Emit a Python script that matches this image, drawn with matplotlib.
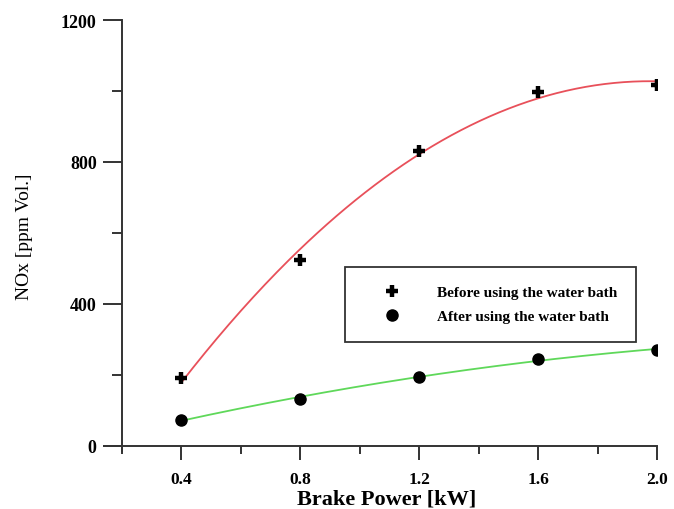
import numpy as np
import matplotlib.pyplot as plt
from matplotlib.ticker import MultipleLocator

plt.rcParams['font.family'] = ['Liberation Serif', 'DejaVu Serif']

power = [0.4, 0.8, 1.2, 1.6, 2.0]
nox_before = [191, 524, 831, 997, 1017]
nox_after = [73, 132, 194, 245, 270]

# smooth fitted curves (2nd order) like the original plot
xs = np.linspace(0.4, 2.0, 200)
fit_before = np.polyval(np.polyfit(power, nox_before, 2), xs)
fit_after = np.polyval(np.polyfit(power, nox_after, 2), xs)

fig = plt.figure(figsize=(6.74, 5.10), dpi=100)
ax = fig.add_axes([0.154, 0.1137, 0.821, 0.845])

ax.plot(xs, fit_before, color='#e8505a', lw=1.3)
ax.plot(xs, fit_after, color='#5fd85a', lw=1.3)
ax.plot(power, nox_before, '+', color='black', ms=9, mew=3.2,
        label='Before using the water bath')
ax.plot(power, nox_after, 'o', color='black', ms=8,
        label='After using the water bath')

ax.set_xlim(0.14, 2.0)
ax.set_ylim(-15, 1200)
ax.spines['left'].set_position(('data', 0.2))
ax.spines['bottom'].set_position(('data', 0))
ax.spines['top'].set_visible(False)
ax.spines['right'].set_visible(False)
for s in ['left', 'bottom']:
    ax.spines[s].set_linewidth(1.4)
    ax.spines[s].set_color('#333333')

ax.set_xticks([0.4, 0.8, 1.2, 1.6, 2.0])
ax.set_xticklabels(['0.4', '0.8', '1.2', '1.6', '2.0'])
ax.xaxis.set_minor_locator(MultipleLocator(0.2))
ax.set_yticks([0, 400, 800, 1200])
ax.yaxis.set_minor_locator(MultipleLocator(200))
ax.tick_params(axis='x', which='major', direction='out', length=10, width=1.4,
               pad=8, labelsize=12.5, color='#333333')
ax.tick_params(axis='x', which='minor', direction='out', length=6, width=1.4,
               color='#333333')
ax.tick_params(axis='y', which='major', direction='out', length=14, width=1.4,
               pad=4, labelsize=13, color='#333333')
ax.tick_params(axis='y', which='minor', direction='out', length=7, width=1.4,
               color='#333333')
for lab in ax.get_xticklabels() + ax.get_yticklabels():
    lab.set_fontweight('bold')

ax.set_xlabel('Brake Power [kW]', fontsize=16, fontweight='bold')
ax.xaxis.set_label_coords(0.512, -0.088)
ax.set_ylabel('NOx [ppm Vol.]', fontsize=14, labelpad=20)

leg = ax.legend(loc='upper left', bbox_to_anchor=(345 / 674, 1 - 268 / 510),
                bbox_transform=fig.transFigure, fontsize=11,
                frameon=True, fancybox=False, edgecolor='black',
                borderpad=1.2, handlelength=3.76, handletextpad=1.07,
                labelspacing=0.7, borderaxespad=0)
leg.get_frame().set_linewidth(1.3)
for t in leg.get_texts():
    t.set_fontweight('bold')

fig.savefig('out.png', dpi=100)
